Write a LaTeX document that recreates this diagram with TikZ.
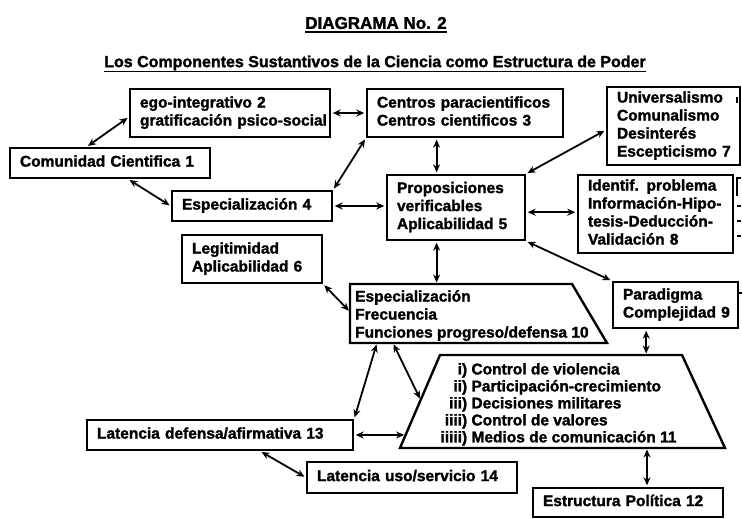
\documentclass[tikz,border=0pt]{standalone}
\usepackage{fontspec}
\setmainfont{Liberation Sans}[BoldFeatures={FakeBold=1.6}]
\usetikzlibrary{arrows.meta,calc}
\newcommand\bxfont{\bfseries\fontsize{15.5}{18}\selectfont}
\newcommand\lns[1]{\begin{tabular}{@{}l@{}}#1\end{tabular}}
\newcommand\rnum[1]{\makebox[30pt][r]{#1}\ }
\begin{document}
\begin{tikzpicture}[x=1pt,y=-1pt,
  every node/.style={font=\bxfont},
  bx/.style={draw, line width=2.4pt, inner xsep=10pt, inner ysep=0pt, align=left},
  shapeline/.style={line width=2.4pt, line join=miter},
  arr/.style={line width=1.8pt, {Stealth[length=8pt,width=7pt]}-{Stealth[length=8pt,width=7pt]}, shorten <=1.5pt, shorten >=1.5pt},
  frag/.style={line width=1.4pt}]
\useasboundingbox (0,0) rectangle (742,519);
\fill[white] (0,0) rectangle (742,519);

% titles
\node[font=\bfseries\fontsize{17}{20}\selectfont, inner xsep=0pt, inner ysep=2.5pt] (title) at (376,23) {DIAGRAMA No. 2};
\draw[line width=1.6pt] (title.south west) -- (title.south east);
\node[font=\bfseries\fontsize{16}{19}\selectfont, inner xsep=0pt, inner ysep=1pt] (sub) at (375,63) {Los Componentes Sustantivos de la Ciencia como Estructura de Poder};
\draw[line width=1.6pt] (sub.south west) -- (sub.south east);

% boxes
\node[bx, text width=180pt, minimum height=30pt] (b1) at (110,163) {\lns{Comunidad Cientifica 1}};
\node[bx, text width=180pt, minimum height=48pt] (b2) at (230,113) {\lns{ego-integrativo 2\\gratificación psico-social}};
\node[bx, text width=176pt, minimum height=48pt] (b3) at (465,113) {\lns{Centros paracientificos\\Centros cientificos 3}};
\node[bx, text width=113pt, minimum height=78pt] (b7) at (673.5,126) {\lns{Universalismo\\Comunalismo\\Desinterés\\Escepticismo 7}};
\node[bx, text width=140pt, minimum height=30pt] (b4) at (252,206) {\lns{Especialización 4}};
\node[bx, text width=118pt, minimum height=65pt] (b5) at (456,207.5) {\lns{Proposiciones\\verificables\\Aplicabilidad 5}};
\node[bx, text width=135pt, minimum height=78pt] (b8) at (655.5,214) {\lns{Identif. problema\\Información-Hipo-\\tesis-Deducción-\\Validación 8}};
\node[bx, text width=120pt, minimum height=48pt] (b6) at (252,259) {\lns{Legitimidad\\Aplicabilidad 6}};
\node[bx, text width=105pt, minimum height=46pt] (b9) at (675.5,305) {\lns{Paradigma\\Complejidad 9}};
\node[bx, text width=246pt, minimum height=30pt] (b13) at (220,435) {\lns{Latencia defensa/afirmativa 13}};
\node[bx, text width=190pt, minimum height=31pt] (b14) at (412,477.5) {\lns{Latencia uso/servicio 14}};
\node[bx, text width=170pt, minimum height=29pt] (b12) at (628,502.5) {\lns{Estructura Política 12}};

% trapezoid 10
\coordinate (t10tl) at (350,284);
\coordinate (t10tr) at (572,284);
\coordinate (t10br) at (607,343);
\coordinate (t10bl) at (350,343);
\draw[shapeline] (t10tl) -- (t10tr) -- (t10br) -- (t10bl) -- cycle;
\node[anchor=west, inner sep=0pt] (t10) at (355,316) {\lns{Especialización\\Frecuencia\\Funciones progreso/defensa 10}};

% trapezoid 11
\coordinate (t11tl) at (440,355);
\coordinate (t11tr) at (682,355);
\coordinate (t11br) at (725,448);
\coordinate (t11bl) at (400,448);
\draw[shapeline] (t11tl) -- (t11tr) -- (t11br) -- (t11bl) -- cycle;
\node[anchor=west, inner sep=0pt] (t11) at (437,405) {\renewcommand\arraystretch{0.944}\lns{\rnum{i)}Control de violencia\\\rnum{ii)}Participación-crecimiento\\\rnum{iii)}Decisiones militares\\\rnum{iiii)}Control de valores\\\rnum{iiiii)}Medios de comunicación 11}};

% connectors
\draw[arr] ($(b1.north west)!0.385!(b1.north east)$) -- ($(b2.north west)!0.58!(b2.south west)$);
\draw[arr] (b2.east) -- (b3.west);
\draw[arr] ($(b1.south west)!0.59!(b1.south east)$) -- (b4.west);
\draw[arr] (b4.north east) -- (b3.south west);
\draw[arr] (b4.east) -- (b4.east -| b5.west);
\coordinate (p35) at ($(b5.north west)!0.362!(b5.north east)$);
\draw[arr] (p35 |- b3.south) -- (p35);
\draw[arr] (b5.north east) -- ($(b7.north west)!0.55!(b7.south west)$);
\coordinate (p58) at ($(b5.north east)!0.57!(b5.south east)$);
\draw[arr] (p58) -- (p58 -| b8.west);
\draw[arr] (b5.south east) -- (b9.north west);
\coordinate (p510) at ($(b5.south west)!0.362!(b5.south east)$);
\draw[arr] (p510) -- (p510 |- t10tl);
\draw[arr] (b6.south east) -- ($(t10tl)!0.47!(t10bl)$);
\coordinate (p911) at ($(b9.south west)!0.27!(b9.south east)$);
\draw[arr] (p911) -- (p911 |- t11tl);
\draw[arr] ($(t10bl)!0.105!(t10br)$) -- (b13.north east);
\draw[arr] ($(t10bl)!0.167!(t10br)$) -- ($(t11tl)!0.484!(t11bl)$);
\draw[arr] (b13.east) -- ($(t11tl)!0.86!(t11bl)$);
\draw[arr] ($(b13.south west)!0.65!(b13.south east)$) -- (b14.west);
\coordinate (p1112) at ($(t11bl)!0.76!(t11br)$);
\draw[arr] (p1112) -- (p1112 |- b12.north);

% fragments at the cut right edge
\draw[frag] (737,97) -- (737,103);
\draw[frag] (741,178) -- (737,178) -- (737,196);
\draw[frag] (737,206) -- (741,206);
\draw[frag] (737,221) -- (741,221);
\draw[frag] (737,236) -- (741,236);
\draw[frag] (739,293) -- (742,293);
\end{tikzpicture}
\end{document}
